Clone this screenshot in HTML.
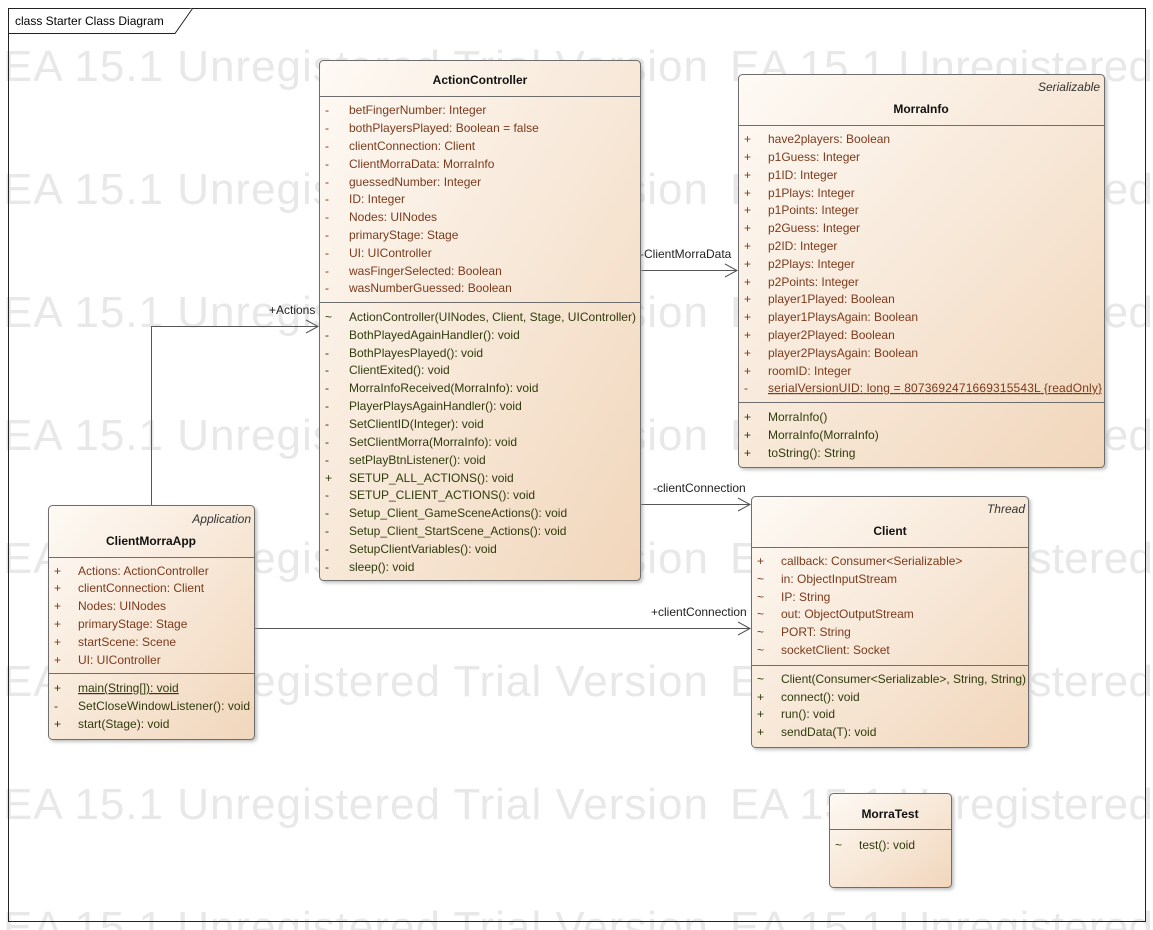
<!DOCTYPE html>
<html><head><meta charset="utf-8"><style>
html,body{margin:0;padding:0;background:#fff}
svg{display:block}
text{font-family:"Liberation Sans",sans-serif;font-size:12px}
.wm text{font-size:44px;fill:#e8e8e8}
.a{fill:#7b3a1c}
.m{fill:#2f3c0c}
.t{font-weight:bold;fill:#111}
.s{font-style:italic;fill:#333;font-size:12px}
.bx{fill:url(#g);stroke:#6e6e6e;stroke-width:1}
.sep{stroke:#6e6e6e;stroke-width:1}
.ln{stroke:#555;stroke-width:1;fill:none}
.lb{fill:#222}
</style></head><body>
<svg width="1153" height="930" viewBox="0 0 1153 930">
<defs>
<linearGradient id="g" x1="0" y1="0" x2="1" y2="1">
<stop offset="0" stop-color="#fefaf5"/><stop offset="1" stop-color="#f1d6bb"/></linearGradient>
<filter id="sh" x="-5%" y="-5%" width="110%" height="110%"><feDropShadow dx="2" dy="2" stdDeviation="1.5" flood-color="#999" flood-opacity="0.6"/></filter>
</defs>
<rect x="0" y="0" width="1153" height="930" fill="#fff"/>
<g class="wm">
<text x="3" y="81" textLength="705">EA 15.1 Unregistered Trial Version</text><text x="730" y="81" textLength="423">EA 15.1 Unregistered</text>
<text x="3" y="204" textLength="705">EA 15.1 Unregistered Trial Version</text><text x="730" y="204" textLength="423">EA 15.1 Unregistered</text>
<text x="3" y="327" textLength="705">EA 15.1 Unregistered Trial Version</text><text x="730" y="327" textLength="423">EA 15.1 Unregistered</text>
<text x="3" y="450" textLength="705">EA 15.1 Unregistered Trial Version</text><text x="730" y="450" textLength="423">EA 15.1 Unregistered</text>
<text x="3" y="573" textLength="705">EA 15.1 Unregistered Trial Version</text><text x="730" y="573" textLength="423">EA 15.1 Unregistered</text>
<text x="3" y="696" textLength="705">EA 15.1 Unregistered Trial Version</text><text x="730" y="696" textLength="423">EA 15.1 Unregistered</text>
<text x="3" y="819" textLength="705">EA 15.1 Unregistered Trial Version</text><text x="730" y="819" textLength="423">EA 15.1 Unregistered</text>
<text x="3" y="942" textLength="705">EA 15.1 Unregistered Trial Version</text><text x="730" y="942" textLength="423">EA 15.1 Unregistered</text>
</g>
<rect x="8.5" y="8.5" width="1137" height="913" fill="none" stroke="#222"/>
<path d="M8.5 33.5 H175 L192.5 8.5" fill="#fff" stroke="#222"/>
<text x="15" y="25" fill="#000">class Starter Class Diagram</text>

<path class="ln" d="M151.5 505 V326.5 H318"/><path class="ln" d="M306 320 L318 326.5 L306 333"/>
<text x="269" y="314" class="lb">+Actions</text>
<path class="ln" d="M641 270.5 H737"/><path class="ln" d="M725 264 L737 270.5 L725 277"/>
<text x="640" y="258" class="lb">-ClientMorraData</text>
<path class="ln" d="M641 504.5 H750"/><path class="ln" d="M738 498 L750 504.5 L738 511"/>
<text x="653" y="492" class="lb">-clientConnection</text>
<path class="ln" d="M255 628.5 H750"/><path class="ln" d="M738 622 L750 628.5 L738 635"/>
<text x="651" y="616" class="lb">+clientConnection</text>

<g filter="url(#sh)"><rect class="bx" x="319.5" y="60.5" width="321" height="520" rx="4"/></g>
<text x="480" y="84" text-anchor="middle" class="t">ActionController</text>
<line class="sep" x1="320" y1="96.5" x2="640" y2="96.5"/>
<g class="a">
<text x="325" y="114">-</text><text x="349" y="114">betFingerNumber: Integer</text>
<text x="325" y="132">-</text><text x="349" y="132">bothPlayersPlayed: Boolean = false</text>
<text x="325" y="150">-</text><text x="349" y="150">clientConnection: Client</text>
<text x="325" y="168">-</text><text x="349" y="168">ClientMorraData: MorraInfo</text>
<text x="325" y="186">-</text><text x="349" y="186">guessedNumber: Integer</text>
<text x="325" y="203">-</text><text x="349" y="203">ID: Integer</text>
<text x="325" y="221">-</text><text x="349" y="221">Nodes: UINodes</text>
<text x="325" y="239">-</text><text x="349" y="239">primaryStage: Stage</text>
<text x="325" y="257">-</text><text x="349" y="257">UI: UIController</text>
<text x="325" y="275">-</text><text x="349" y="275">wasFingerSelected: Boolean</text>
<text x="325" y="292">-</text><text x="349" y="292">wasNumberGuessed: Boolean</text>
</g>
<line class="sep" x1="320" y1="302.5" x2="640" y2="302.5"/>
<g class="m">
<text x="325" y="321">~</text><text x="349" y="321" textLength="287">ActionController(UINodes, Client, Stage, UIController)</text>
<text x="325" y="339">-</text><text x="349" y="339">BothPlayedAgainHandler(): void</text>
<text x="325" y="357">-</text><text x="349" y="357">BothPlayesPlayed(): void</text>
<text x="325" y="374">-</text><text x="349" y="374">ClientExited(): void</text>
<text x="325" y="392">-</text><text x="349" y="392">MorraInfoReceived(MorraInfo): void</text>
<text x="325" y="410">-</text><text x="349" y="410">PlayerPlaysAgainHandler(): void</text>
<text x="325" y="428">-</text><text x="349" y="428">SetClientID(Integer): void</text>
<text x="325" y="446">-</text><text x="349" y="446">SetClientMorra(MorraInfo): void</text>
<text x="325" y="464">-</text><text x="349" y="464">setPlayBtnListener(): void</text>
<text x="325" y="482">+</text><text x="349" y="482">SETUP_ALL_ACTIONS(): void</text>
<text x="325" y="499">-</text><text x="349" y="499">SETUP_CLIENT_ACTIONS(): void</text>
<text x="325" y="517">-</text><text x="349" y="517">Setup_Client_GameSceneActions(): void</text>
<text x="325" y="535">-</text><text x="349" y="535">Setup_Client_StartScene_Actions(): void</text>
<text x="325" y="553">-</text><text x="349" y="553">SetupClientVariables(): void</text>
<text x="325" y="571">-</text><text x="349" y="571">sleep(): void</text>
</g>

<g filter="url(#sh)"><rect class="bx" x="738.5" y="74.5" width="366" height="393" rx="4"/></g>
<text x="1100" y="91" text-anchor="end" class="s">Serializable</text>
<text x="921" y="113" text-anchor="middle" class="t">MorraInfo</text>
<line class="sep" x1="739" y1="125.5" x2="1104" y2="125.5"/>
<g class="a">
<text x="744" y="143">+</text><text x="768" y="143">have2players: Boolean</text>
<text x="744" y="161">+</text><text x="768" y="161">p1Guess: Integer</text>
<text x="744" y="179">+</text><text x="768" y="179">p1ID: Integer</text>
<text x="744" y="197">+</text><text x="768" y="197">p1Plays: Integer</text>
<text x="744" y="214">+</text><text x="768" y="214">p1Points: Integer</text>
<text x="744" y="232">+</text><text x="768" y="232">p2Guess: Integer</text>
<text x="744" y="250">+</text><text x="768" y="250">p2ID: Integer</text>
<text x="744" y="268">+</text><text x="768" y="268">p2Plays: Integer</text>
<text x="744" y="286">+</text><text x="768" y="286">p2Points: Integer</text>
<text x="744" y="303">+</text><text x="768" y="303">player1Played: Boolean</text>
<text x="744" y="321">+</text><text x="768" y="321">player1PlaysAgain: Boolean</text>
<text x="744" y="339">+</text><text x="768" y="339">player2Played: Boolean</text>
<text x="744" y="357">+</text><text x="768" y="357">player2PlaysAgain: Boolean</text>
<text x="744" y="375">+</text><text x="768" y="375">roomID: Integer</text>
<text x="744" y="392">-</text><text x="768" y="392" text-decoration="underline" textLength="334">serialVersionUID: long = 8073692471669315543L {readOnly}</text>
</g>
<line class="sep" x1="739" y1="402.5" x2="1104" y2="402.5"/>
<g class="m">
<text x="744" y="421">+</text><text x="768" y="421">MorraInfo()</text>
<text x="744" y="439">+</text><text x="768" y="439">MorraInfo(MorraInfo)</text>
<text x="744" y="457">+</text><text x="768" y="457">toString(): String</text>
</g>

<g filter="url(#sh)"><rect class="bx" x="751.5" y="496.5" width="277" height="251" rx="4"/></g>
<text x="1025" y="513" text-anchor="end" class="s">Thread</text>
<text x="890" y="535" text-anchor="middle" class="t">Client</text>
<line class="sep" x1="752" y1="547.5" x2="1028" y2="547.5"/>
<g class="a">
<text x="757" y="565">+</text><text x="781" y="565">callback: Consumer&lt;Serializable&gt;</text>
<text x="757" y="583">~</text><text x="781" y="583">in: ObjectInputStream</text>
<text x="757" y="601">~</text><text x="781" y="601">IP: String</text>
<text x="757" y="618">~</text><text x="781" y="618">out: ObjectOutputStream</text>
<text x="757" y="636">~</text><text x="781" y="636">PORT: String</text>
<text x="757" y="654">~</text><text x="781" y="654">socketClient: Socket</text>
</g>
<line class="sep" x1="752" y1="665.5" x2="1028" y2="665.5"/>
<g class="m">
<text x="757" y="683">~</text><text x="781" y="683" textLength="245">Client(Consumer&lt;Serializable&gt;, String, String)</text>
<text x="757" y="701">+</text><text x="781" y="701">connect(): void</text>
<text x="757" y="718">+</text><text x="781" y="718">run(): void</text>
<text x="757" y="736">+</text><text x="781" y="736">sendData(T): void</text>
</g>

<g filter="url(#sh)"><rect class="bx" x="48.5" y="505.5" width="206" height="234" rx="4"/></g>
<text x="251" y="523" text-anchor="end" class="s">Application</text>
<text x="151" y="545" text-anchor="middle" class="t">ClientMorraApp</text>
<line class="sep" x1="49" y1="557.5" x2="254" y2="557.5"/>
<g class="a">
<text x="54" y="575">+</text><text x="78" y="575">Actions: ActionController</text>
<text x="54" y="592">+</text><text x="78" y="592">clientConnection: Client</text>
<text x="54" y="610">+</text><text x="78" y="610">Nodes: UINodes</text>
<text x="54" y="628">+</text><text x="78" y="628">primaryStage: Stage</text>
<text x="54" y="646">+</text><text x="78" y="646">startScene: Scene</text>
<text x="54" y="664">+</text><text x="78" y="664">UI: UIController</text>
</g>
<line class="sep" x1="49" y1="673.5" x2="254" y2="673.5"/>
<g class="m">
<text x="54" y="692">+</text><text x="78" y="692" text-decoration="underline">main(String[]): void</text>
<text x="54" y="710">-</text><text x="78" y="710" textLength="172">SetCloseWindowListener(): void</text>
<text x="54" y="728">+</text><text x="78" y="728">start(Stage): void</text>
</g>

<g filter="url(#sh)"><rect class="bx" x="829.5" y="793.5" width="122" height="94" rx="4"/></g>
<text x="890" y="818" text-anchor="middle" class="t">MorraTest</text>
<line class="sep" x1="830" y1="829.5" x2="951" y2="829.5"/>
<g class="m"><text x="835" y="849">~</text><text x="859" y="849">test(): void</text></g>
</svg>
</body></html>
